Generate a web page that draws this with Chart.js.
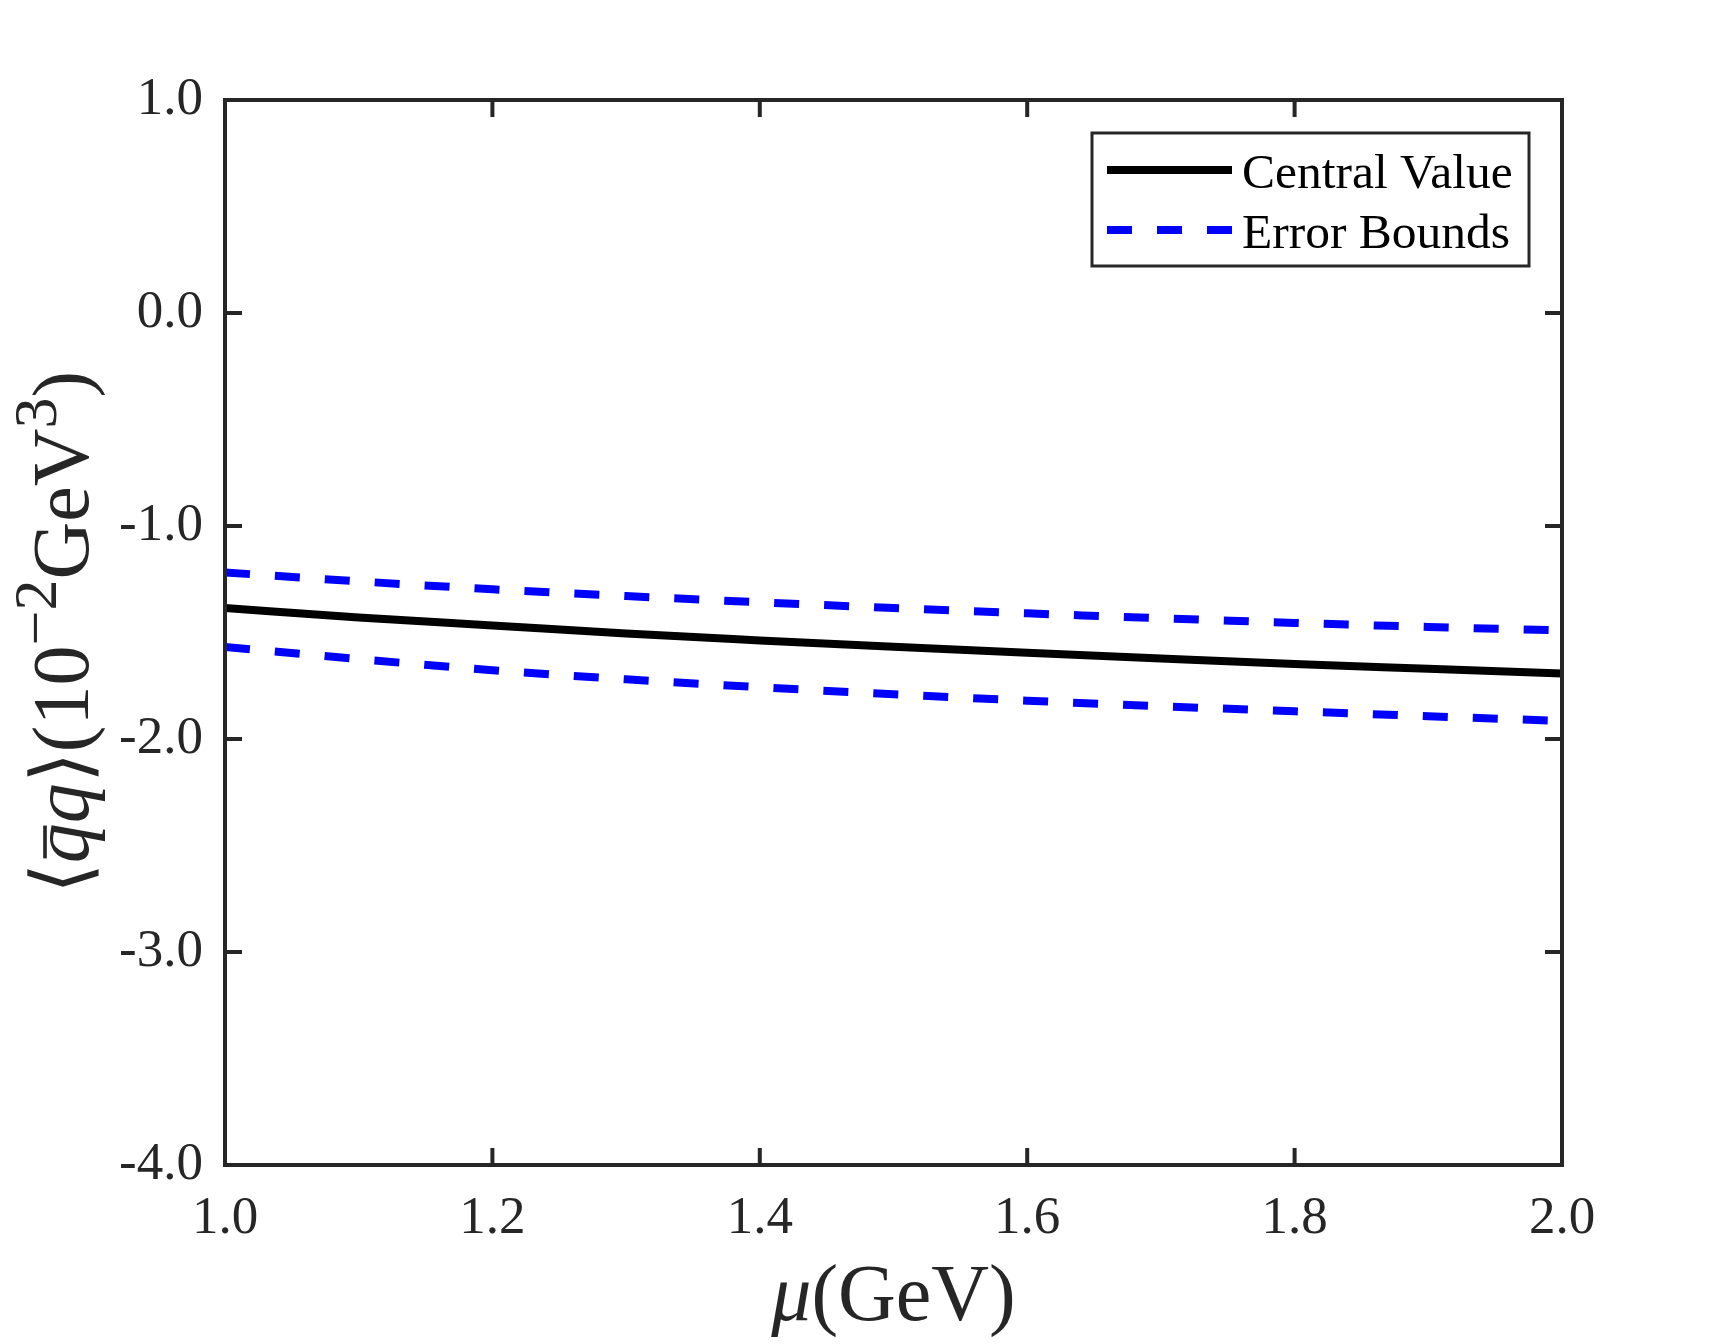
<!DOCTYPE html>
<html>
<head>
<meta charset="utf-8">
<title>Quark condensate vs mu</title>
<script src="https://cdn.jsdelivr.net/npm/chart.js@4.4.1/dist/chart.umd.min.js"></script>
<style>
  html, body { margin: 0; padding: 0; background: #ffffff; }
  #wrap { width: 1729px; height: 1344px; position: relative; }
</style>
</head>
<body>
<div id="wrap"><canvas id="chart" width="1729" height="1344"></canvas></div>
<script>
// Datos
const muValues = [1.0, 1.1, 1.2, 1.3, 1.4, 1.5, 1.6, 1.7, 1.8, 1.9, 2.0];
const centralValue = [-1.385, -1.430, -1.467, -1.505, -1.537, -1.567, -1.595, -1.622, -1.648, -1.670, -1.692];
const upperBound = [-1.218, -1.260, -1.297, -1.329, -1.358, -1.385, -1.410, -1.433, -1.455, -1.474, -1.490];
const lowerBound = [-1.568, -1.625, -1.677, -1.720, -1.757, -1.790, -1.820, -1.846, -1.870, -1.893, -1.915];
const xTicks = [1.0, 1.2, 1.4, 1.6, 1.8, 2.0];
const yTicks = [1.0, 0.0, -1.0, -2.0, -3.0, -4.0];
const seriesLabels = ["Central Value", "Error Bounds"];

const AXIS_COLOR = "#262626";
const SERIF = "'Liberation Serif', 'Times New Roman', serif";

function toPoints(values) {
  return muValues.map((mu, i) => ({x: mu, y: values[i]}));
}

// Marco del eje con marcas hacia adentro en los cuatro lados
const framePlugin = {
  id: "frame",
  afterDatasetsDraw(chart) {
    const {ctx, chartArea: a, scales} = chart;
    const tick = 15;
    ctx.save();
    ctx.strokeStyle = AXIS_COLOR;
    ctx.lineWidth = 4;
    ctx.lineCap = "square";
    ctx.strokeRect(a.left, a.top, a.right - a.left, a.bottom - a.top);
    ctx.beginPath();
    xTicks.forEach(v => {
      const px = scales.x.getPixelForValue(v);
      ctx.moveTo(px, a.bottom); ctx.lineTo(px, a.bottom - tick);
      ctx.moveTo(px, a.top); ctx.lineTo(px, a.top + tick);
    });
    yTicks.forEach(v => {
      const py = scales.y.getPixelForValue(v);
      ctx.moveTo(a.left, py); ctx.lineTo(a.left + tick, py);
      ctx.moveTo(a.right, py); ctx.lineTo(a.right - tick, py);
    });
    ctx.stroke();
    ctx.restore();
  }
};

// Dibuja segmentos de texto con estilos mezclados (cursiva, superindice, barra)
function drawRuns(ctx, runs, size) {
  const fontOf = r => (r.italic ? "italic " : "") + Math.round(size * (r.sup ? 0.78 : 1)) + "px " + SERIF;
  let total = 0;
  runs.forEach(r => { ctx.font = fontOf(r); r.w = ctx.measureText(r.text).width; total += r.w; });
  let x = -total / 2;
  runs.forEach(r => {
    ctx.font = fontOf(r);
    const y = r.sup ? -size * 0.4 : 0;
    ctx.fillText(r.text, x, y);
    if (r.bar) {
      ctx.fillRect(x + r.w * 0.12, -size * 0.56, r.w * 0.82, size * 0.045);
    }
    x += r.w;
  });
}

const titlePlugin = {
  id: "titles",
  afterDraw(chart) {
    const {ctx, chartArea: a} = chart;
    ctx.save();
    ctx.fillStyle = AXIS_COLOR;
    ctx.textBaseline = "alphabetic";
    ctx.textAlign = "left";

    // Titulo eje X
    ctx.save();
    ctx.translate((a.left + a.right) / 2, 1320);
    drawRuns(ctx, [
      {text: "\u03bc", italic: true},
      {text: "(GeV)"}
    ], 80);
    ctx.restore();

    // Titulo eje Y
    ctx.save();
    ctx.translate(88, (a.top + a.bottom) / 2);
    ctx.rotate(-Math.PI / 2);
    drawRuns(ctx, [
      {text: "\u27e8"},
      {text: "q", italic: true, bar: true},
      {text: "q", italic: true},
      {text: "\u27e9(10"},
      {text: "\u22122", sup: true},
      {text: "GeV"},
      {text: "3", sup: true},
      {text: ")"}
    ], 80);
    ctx.restore();
    ctx.restore();
  }
};

// Leyenda dentro del area (solo las dos primeras series)
const legendPlugin = {
  id: "boxLegend",
  afterDraw(chart) {
    const ctx = chart.ctx;
    const box = {left: 1092, top: 133, right: 1529, bottom: 266};
    const rows = [188, 248];
    ctx.save();
    ctx.fillStyle = "#ffffff";
    ctx.fillRect(box.left, box.top, box.right - box.left, box.bottom - box.top);
    ctx.strokeStyle = AXIS_COLOR;
    ctx.lineWidth = 3;
    ctx.strokeRect(box.left, box.top, box.right - box.left, box.bottom - box.top);
    chart.data.datasets.filter(ds => ds.inLegend).forEach((ds, i) => {
      const y = rows[i] - 18;
      ctx.strokeStyle = ds.borderColor;
      ctx.lineWidth = ds.borderWidth;
      ctx.lineCap = "butt";
      ctx.setLineDash(ds.borderDash || []);
      ctx.beginPath();
      ctx.moveTo(1107, y);
      ctx.lineTo(1232, y);
      ctx.stroke();
      ctx.setLineDash([]);
      ctx.fillStyle = "#000000";
      ctx.font = "49.5px " + SERIF;
      ctx.textBaseline = "alphabetic";
      ctx.fillText(ds.label, 1242, rows[i]);
    });
    ctx.restore();
  }
};

const ctx = document.getElementById("chart").getContext("2d");
new Chart(ctx, {
  type: "line",
  data: {
    datasets: [
      {
        label: seriesLabels[0],
        inLegend: true,
        data: toPoints(centralValue),
        borderColor: "#000000",
        borderWidth: 8,
        pointRadius: 0,
        cubicInterpolationMode: "monotone"
      },
      {
        label: seriesLabels[1],
        inLegend: true,
        data: toPoints(upperBound),
        borderColor: "#0000ff",
        borderWidth: 8,
        borderDash: [25, 25],
        borderCapStyle: "butt",
        pointRadius: 0,
        cubicInterpolationMode: "monotone"
      },
      {
        label: seriesLabels[1],
        inLegend: false,
        data: toPoints(lowerBound),
        borderColor: "#0000ff",
        borderWidth: 8,
        borderDash: [25, 25],
        borderCapStyle: "butt",
        pointRadius: 0,
        cubicInterpolationMode: "monotone"
      }
    ]
  },
  options: {
    responsive: false,
    animation: false,
    layout: {padding: {top: 100, right: 167, left: 0, bottom: 0}},
    plugins: {
      legend: {display: false},
      tooltip: {enabled: false}
    },
    scales: {
      x: {
        type: "linear",
        min: 1.0,
        max: 2.0,
        afterFit: scale => { scale.height = 179; },
        afterBuildTicks: scale => { scale.ticks = xTicks.map(v => ({value: v})); },
        grid: {display: false, drawTicks: false},
        border: {display: false},
        ticks: {
          padding: 22,
          color: AXIS_COLOR,
          font: {family: SERIF, size: 53},
          maxRotation: 0,
          callback: v => Number(v).toFixed(1)
        }
      },
      y: {
        type: "linear",
        min: -4.0,
        max: 1.0,
        afterFit: scale => { scale.width = 225; },
        afterBuildTicks: scale => { scale.ticks = yTicks.map(v => ({value: v})); },
        grid: {display: false, drawTicks: false},
        border: {display: false},
        ticks: {
          padding: 22,
          color: AXIS_COLOR,
          font: {family: SERIF, size: 53},
          callback: v => Number(v).toFixed(1)
        }
      }
    }
  },
  plugins: [framePlugin, titlePlugin, legendPlugin]
});
</script>
</body>
</html>
